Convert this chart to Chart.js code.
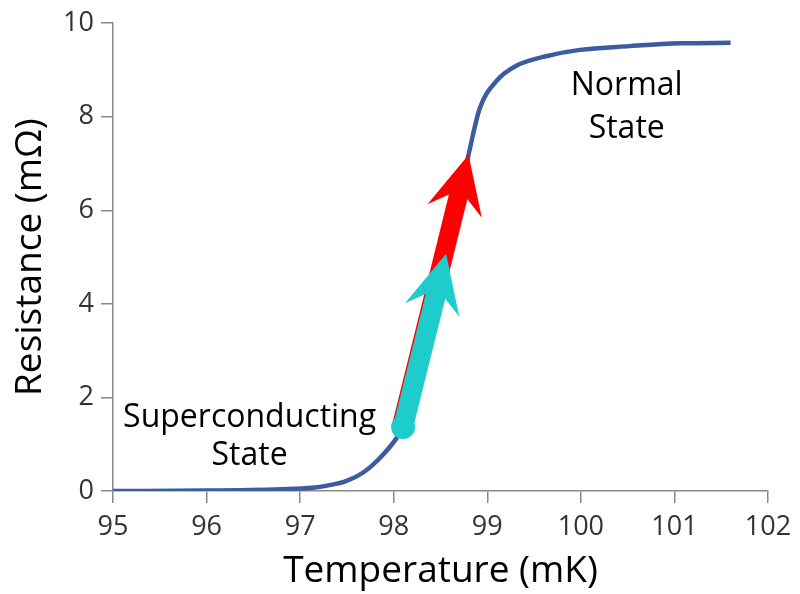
<!DOCTYPE html>
<html>
<head>
<meta charset="utf-8">
<script src="https://cdn.jsdelivr.net/npm/chart.js@4/dist/chart.umd.min.js"></script>
<style>
  html, body { margin: 0; padding: 0; background: #fff; }
  #wrap { width: 800px; height: 594px; position: relative; }
</style>
</head>
<body>
<div id="wrap"><canvas id="rt"></canvas></div>
<script>
// Resistance vs temperature (superconducting transition)
const temps = [95, 96, 96.8, 97.13, 97.3, 97.49, 97.67, 97.85, 98.03, 98.1, 98.3, 98.5, 98.65, 98.8, 98.92, 99.1, 99.31, 99.64, 99.99, 100.52, 101.06, 101.6];
const resist = [0, 0.01, 0.04, 0.07, 0.12, 0.21, 0.39, 0.70, 1.13, 1.37, 2.7, 4.3, 5.8, 7.19, 8.18, 8.77, 9.09, 9.30, 9.43, 9.51, 9.57, 9.58];

const xTicks = [95, 96, 97, 98, 99, 100, 101, 102];
const yTicks = [0, 2, 4, 6, 8, 10];

// arrows along the transition, in data coordinates
const arrowFrom = [[98.09, 1.45], [98.1, 1.37]];
const arrowTo = [[98.8, 7.19], [98.56, 5.07]];
const arrowColors = ['#ff0000', '#1fcccc'];

// state labels: first-line baseline in data coords, then line gap in px
const labelLines = [['Superconducting', 'State'], ['Normal', 'State']];
const labelAt = [[96.46, 1.36], [100.49, 8.47]];
const labelGap = [38, 43];

const FONT = '"Open Sans", sans-serif';

const arrowPlugin = {
  id: 'arrows',
  afterDatasetsDraw(chart) {
    const { ctx, scales: { x, y } } = chart;
    ctx.save();
    arrowFrom.forEach((from, i) => {
      const x0 = x.getPixelForValue(from[0]);
      const y0 = y.getPixelForValue(from[1]);
      const x1 = x.getPixelForValue(arrowTo[i][0]);
      const y1 = y.getPixelForValue(arrowTo[i][1]);
      const len = Math.hypot(x1 - x0, y1 - y0);
      const ux = (x1 - x0) / len, uy = (y1 - y0) / len;
      const px = -uy, py = ux;
      const headLen = 58, headHalf = 28, notch = 36;
      const color = arrowColors[i];
      // shaft
      ctx.strokeStyle = color;
      ctx.lineWidth = i === 1 ? 20 : 19;
      ctx.lineCap = i === 1 ? 'round' : 'butt';
      ctx.beginPath();
      ctx.moveTo(x0, y0);
      ctx.lineTo(x1 - ux * notch, y1 - uy * notch);
      ctx.stroke();
      // head
      ctx.fillStyle = color;
      ctx.beginPath();
      ctx.moveTo(x1, y1);
      ctx.lineTo(x1 - ux * headLen + px * headHalf, y1 - uy * headLen + py * headHalf);
      ctx.lineTo(x1 - ux * notch, y1 - uy * notch);
      ctx.lineTo(x1 - ux * headLen - px * headHalf, y1 - uy * headLen - py * headHalf);
      ctx.closePath();
      ctx.fill();
    });
    // tail dot of the cyan arrow
    ctx.fillStyle = arrowColors[1];
    ctx.beginPath();
    ctx.arc(x.getPixelForValue(arrowFrom[1][0]), y.getPixelForValue(arrowFrom[1][1]), 12, 0, Math.PI * 2);
    ctx.fill();

    ctx.fillStyle = '#000';
    ctx.font = '32px ' + FONT;
    ctx.textAlign = 'center';
    ctx.textBaseline = 'alphabetic';
    labelLines.forEach((lines, i) => {
      const cx = x.getPixelForValue(labelAt[i][0]);
      const cy = y.getPixelForValue(labelAt[i][1]);
      lines.forEach((line, k) => ctx.fillText(line, cx, cy + k * labelGap[i]));
    });
    ctx.restore();
  }
};

new Chart(document.getElementById('rt'), {
  type: 'line',
  data: {
    datasets: [{
      data: temps.map((t, i) => ({ x: t, y: resist[i] })),
      borderColor: '#3b5c9e',
      borderWidth: 4.5,
      pointRadius: 0,
      cubicInterpolationMode: 'monotone',
      fill: false
    }]
  },
  options: {
    responsive: true,
    maintainAspectRatio: false,
    animation: false,
    layout: { padding: { top: 20, right: 32, left: 0, bottom: 0 } },
    plugins: { legend: { display: false }, tooltip: { enabled: false } },
    scales: {
      x: {
        type: 'linear',
        min: 95,
        max: 102,
        afterBuildTicks: (s) => { s.ticks = xTicks.map((v) => ({ value: v })); },
        afterFit: (s) => { s.height = 103; },
        border: { color: '#888', width: 1.5 },
        grid: { drawOnChartArea: false, drawTicks: true, tickLength: 12, color: '#888', lineWidth: 1.5 },
        ticks: { color: '#333', font: { size: 27, family: FONT }, padding: 8 },
        title: { display: true, text: 'Temperature (mK)', color: '#000', font: { size: 37, family: FONT }, padding: { top: 0, bottom: 0 } }
      },
      y: {
        min: 0,
        max: 10,
        afterBuildTicks: (s) => { s.ticks = yTicks.map((v) => ({ value: v })); },
        afterFit: (s) => { s.width = 113; },
        border: { color: '#888', width: 1.5 },
        grid: { drawOnChartArea: false, drawTicks: true, tickLength: 12, color: '#888', lineWidth: 1.5 },
        ticks: { color: '#333', font: { size: 27, family: FONT }, padding: 7 },
        title: { display: true, text: 'Resistance (mΩ)', color: '#000', font: { size: 37, family: FONT }, padding: { top: 8, bottom: 0 } }
      }
    }
  },
  plugins: [arrowPlugin]
});
</script>
</body>
</html>
